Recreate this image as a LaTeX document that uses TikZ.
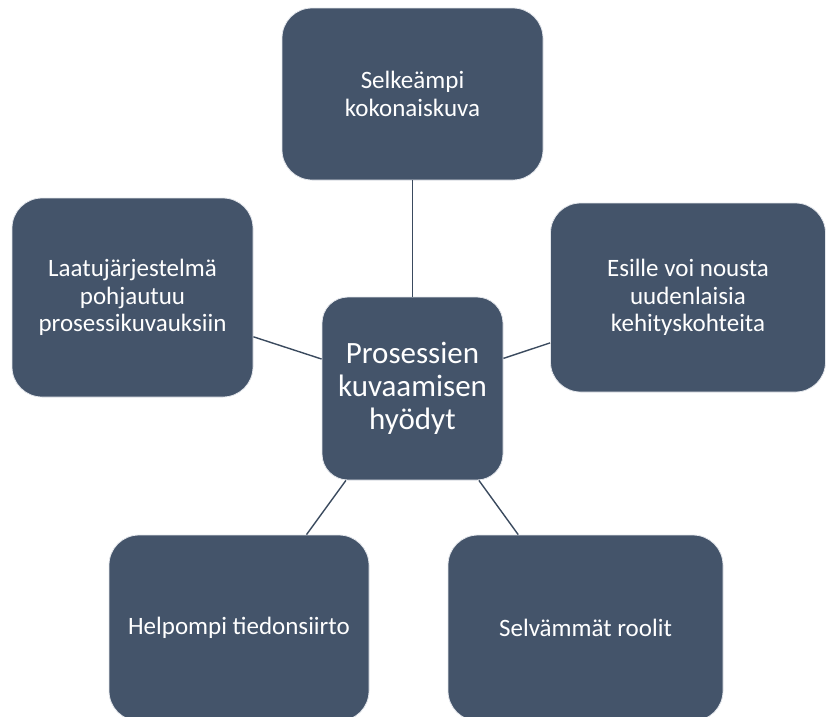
\documentclass[tikz,border=0pt]{standalone}
\usepackage{fontspec}
\setmainfont{Carlito}
\definecolor{slate}{HTML}{44546A}
\definecolor{edgeline}{HTML}{3A4A5E}
\definecolor{rim}{HTML}{E4E7EC}
\begin{document}
\begin{tikzpicture}[x=1pt,y=-1pt,
  boxbase/.style={rectangle, rounded corners=30pt, fill=slate, draw=rim,
    line width=0.8pt, text=white, align=center, inner sep=0pt},
  outer/.style={boxbase, font=\fontsize{25}{27.5}\selectfont},
  hub/.style={boxbase, rounded corners=26pt, font=\fontsize{31}{33}\selectfont},
  link/.style={draw=edgeline, line width=1.4pt}]
\useasboundingbox (0,0) rectangle (826,716);
\clip (0,0) rectangle (826,716);
\node[hub, minimum width=181pt, minimum height=183pt] (c) at (412.5,388.5)
  {Prosessien\\kuvaamisen\\hyödyt};
\node[outer, minimum width=261pt, minimum height=172pt] (t) at (412.5,94)
  {Selkeämpi\\kokonaiskuva};
\node[outer, minimum width=241pt, minimum height=199pt] (l) at (132.5,297.5)
  {Laatujärjestelmä\\pohjautuu\\prosessikuvauksiin};
\node[outer, minimum width=275pt, minimum height=189pt] (r) at (688,297.5)
  {Esille voi nousta\\uudenlaisia\\kehityskohteita};
\node[outer, minimum width=260pt, minimum height=186pt] (bl) at (239,628)
  {Helpompi tiedonsiirto};
\node[outer, minimum width=275pt, minimum height=186pt] (br) at (585.5,628)
  {Selvämmät roolit};
\draw[link] (c) -- (t);
\draw[link] (c) -- (l);
\draw[link] (c) -- (r);
\draw[link] (c) -- (bl);
\draw[link] (c) -- (br);
\end{tikzpicture}
\end{document}
